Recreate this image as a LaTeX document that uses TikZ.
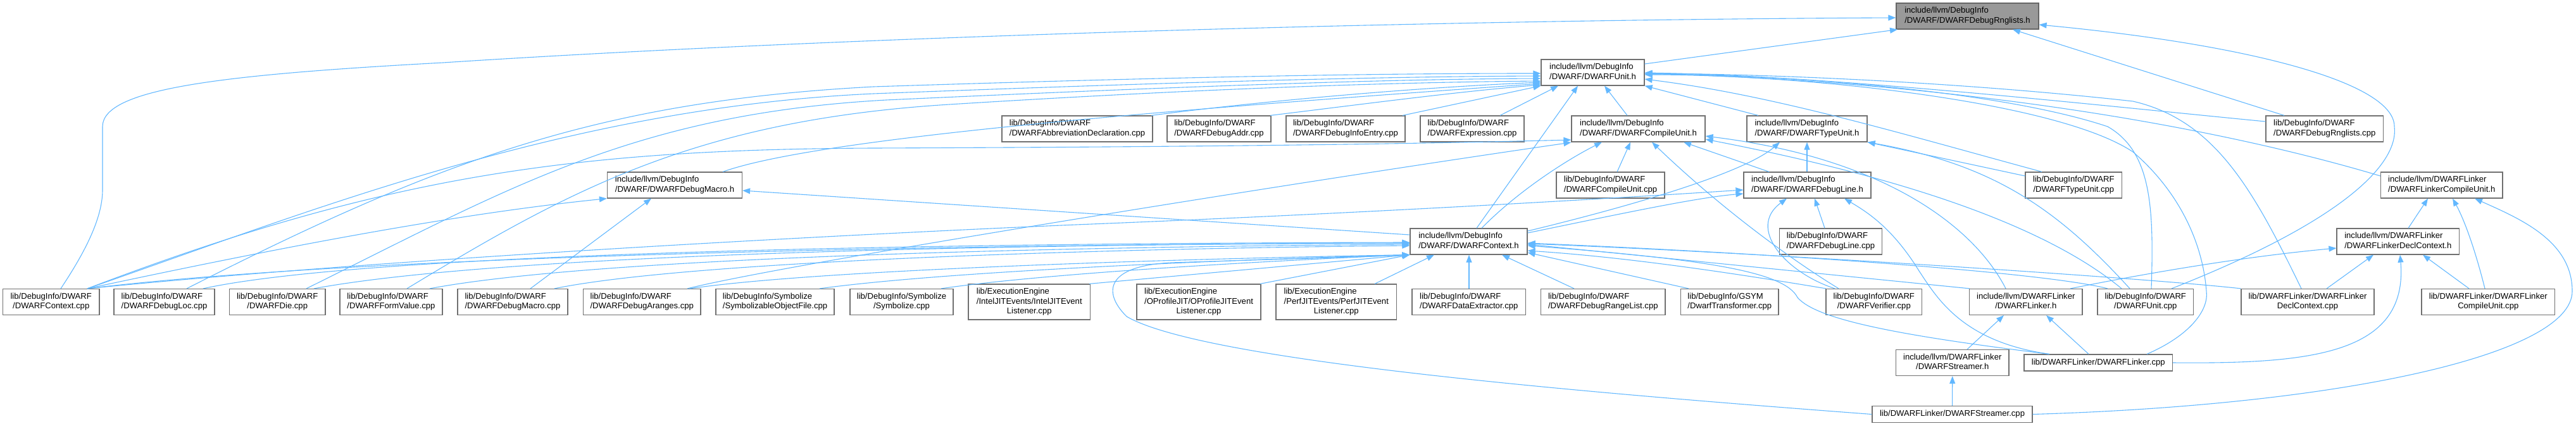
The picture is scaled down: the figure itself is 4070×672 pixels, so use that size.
\documentclass[tikz,border=0pt]{standalone}
\usepackage{fontspec}
\setmainfont{Liberation Sans}
\usetikzlibrary{arrows.meta}
\definecolor{edgec}{HTML}{63B8FF}
\definecolor{boxc}{HTML}{707070}
\definecolor{rootfill}{HTML}{999999}
\definecolor{rootline}{HTML}{666666}
\newcommand\twol[2]{\begin{tabular}{@{}l@{}}#1\\\multicolumn{1}{@{}c@{}}{#2}\end{tabular}}
\newcommand\threel[3]{\begin{tabular}{@{}l@{}}#1\\#2\\\multicolumn{1}{@{}c@{}}{#3}\end{tabular}}
\newcommand\mynode[6]{\node[box,minimum width=#4pt,minimum height=#5pt] (#1) at (#2,#3) {#6};}
\begin{document}
\begin{tikzpicture}[x=1pt,y=-1pt,
  box/.style={draw=boxc,line width=1.2pt,fill=white,inner sep=0pt,font=\fontsize{13.1}{15.3}\selectfont},
  e/.style={draw=edgec,line width=1.1pt,-{Triangle[length=12pt,width=9pt]}}]
\useasboundingbox (0,0) rectangle (4070,672);
% rank 0
\node[box,fill=rootfill,draw=rootline,minimum width=225pt,minimum height=41pt] (R) at (3108.5,25.5) {\twol{include/llvm/DebugInfo}{/DWARF/DWARFDebugRnglists.h}};
% rank 1
\mynode{U}{2516.5}{114.5}{163}{41}{\twol{include/llvm/DebugInfo}{/DWARF/DWARFUnit.h}}
% rank 2
\mynode{Abbrev}{1702}{203.5}{238}{41}{\twol{lib/DebugInfo/DWARF}{/DWARFAbbreviationDeclaration.cpp}}
\mynode{Addr}{1926}{203.5}{164}{41}{\twol{lib/DebugInfo/DWARF}{/DWARFDebugAddr.cpp}}
\mynode{InfoEntry}{2126}{203.5}{188}{41}{\twol{lib/DebugInfo/DWARF}{/DWARFDebugInfoEntry.cpp}}
\mynode{Expr}{2326}{203.5}{164}{41}{\twol{lib/DebugInfo/DWARF}{/DWARFExpression.cpp}}
\mynode{CUh}{2588.5}{203.5}{211}{41}{\twol{include/llvm/DebugInfo}{/DWARF/DWARFCompileUnit.h}}
\mynode{TUh}{2855}{203.5}{190}{41}{\twol{include/llvm/DebugInfo}{/DWARF/DWARFTypeUnit.h}}
\mynode{RngCpp}{3672.75}{203.5}{185.5}{41}{\twol{lib/DebugInfo/DWARF}{/DWARFDebugRnglists.cpp}}
% rank 3
\mynode{Macroh}{1066}{292.5}{213}{41}{\twol{include/llvm/DebugInfo}{/DWARF/DWARFDebugMacro.h}}
\mynode{CUcpp}{2544.5}{292.5}{171}{41}{\twol{lib/DebugInfo/DWARF}{/DWARFCompileUnit.cpp}}
\mynode{Lineh}{2855.5}{292.5}{201}{41}{\twol{include/llvm/DebugInfo}{/DWARF/DWARFDebugLine.h}}
\mynode{TUcpp}{3276.3}{292.5}{152.6}{41}{\twol{lib/DebugInfo/DWARF}{/DWARFTypeUnit.cpp}}
\mynode{LCUh}{3857.75}{292.5}{192.5}{41}{\twol{include/llvm/DWARFLinker}{/DWARFLinkerCompileUnit.h}}
% rank 4
\mynode{Ctxh}{2320.5}{381.5}{185}{41}{\twol{include/llvm/DebugInfo}{/DWARF/DWARFContext.h}}
\mynode{Linecpp}{2892.5}{381.5}{162}{41}{\twol{lib/DebugInfo/DWARF}{/DWARFDebugLine.cpp}}
\mynode{LDCh}{3788.8}{381.5}{193.6}{41}{\twol{include/llvm/DWARFLinker}{/DWARFLinkerDeclContext.h}}
% rank 5
\mynode{CtxCpp}{80.75}{477}{152.5}{41}{\twol{lib/DebugInfo/DWARF}{/DWARFContext.cpp}}
\mynode{Loc}{259.5}{477}{159}{41}{\twol{lib/DebugInfo/DWARF}{/DWARFDebugLoc.cpp}}
\mynode{Die}{438.25}{477}{151.5}{41}{\twol{lib/DebugInfo/DWARF}{/DWARFDie.cpp}}
\mynode{Form}{618}{477}{162}{41}{\twol{lib/DebugInfo/DWARF}{/DWARFFormValue.cpp}}
\mynode{MacroCpp}{810}{477}{174}{41}{\twol{lib/DebugInfo/DWARF}{/DWARFDebugMacro.cpp}}
\mynode{Aranges}{1014.25}{477}{185.5}{41}{\twol{lib/DebugInfo/DWARF}{/DWARFDebugAranges.cpp}}
\mynode{SymObj}{1224.5}{477}{187}{41}{\twol{lib/DebugInfo/Symbolize}{/SymbolizableObjectFile.cpp}}
\mynode{Symb}{1424.5}{477}{163}{41}{\twol{lib/DebugInfo/Symbolize}{/Symbolize.cpp}}
\mynode{Intel}{1626.25}{477}{192.5}{56}{\threel{lib/ExecutionEngine}{/IntelJITEvents/IntelJITEvent}{Listener.cpp}}
\mynode{OProf}{1894}{477}{196}{56}{\threel{lib/ExecutionEngine}{/OProfileJIT/OProfileJITEvent}{Listener.cpp}}
\mynode{Perf}{2111.25}{477}{190.5}{56}{\threel{lib/ExecutionEngine}{/PerfJITEvents/PerfJITEvent}{Listener.cpp}}
\mynode{DataEx}{2320.75}{477}{179.5}{41}{\twol{lib/DebugInfo/DWARF}{/DWARFDataExtractor.cpp}}
\mynode{RangeList}{2532.8}{477}{196.4}{41}{\twol{lib/DebugInfo/DWARF}{/DWARFDebugRangeList.cpp}}
\mynode{DwarfTr}{2732.8}{477}{154.4}{41}{\twol{lib/DebugInfo/GSYM}{/DwarfTransformer.cpp}}
\mynode{Verif}{2960.75}{477}{151.5}{41}{\twol{lib/DebugInfo/DWARF}{/DWARFVerifier.cpp}}
\mynode{Linkerh}{3200.75}{477}{178.5}{41}{\twol{include/llvm/DWARFLinker}{/DWARFLinker.h}}
\mynode{UnitCpp}{3389.75}{477}{151.5}{41}{\twol{lib/DebugInfo/DWARF}{/DWARFUnit.cpp}}
\mynode{LDCcpp}{3646}{477}{210}{41}{\twol{lib/DWARFLinker/DWARFLinker}{DeclContext.cpp}}
\mynode{LCUcpp}{3931.25}{477}{210.5}{41}{\twol{lib/DWARFLinker/DWARFLinker}{CompileUnit.cpp}}
% rank 6
\mynode{Streamh}{3084.75}{573}{178.5}{41}{\twol{include/llvm/DWARFLinker}{/DWARFStreamer.h}}
\mynode{LinkerCpp}{3315.25}{573}{234.5}{26}{lib/DWARFLinker/DWARFLinker.cpp}
% rank 7
\mynode{StreamCpp}{3084.5}{654.5}{253}{26}{lib/DWARFLinker/DWARFStreamer.cpp}

% ---- edges into DWARFDebugRnglists.h
\draw[e] (96,0 |- CtxCpp.north) .. controls (140,390) and (162,340) .. (162,300) -- (162,200) .. controls (162,140) and (350,118) .. (700,99) .. controls (1300,60) and (2200,32) .. (R.west |- 0,28);
\draw[e] (U.east |- 0,101) -- (2998,0 |- R.south);
\draw[e] (3609,0 |- RngCpp.north) -- (3180,0 |- R.south);
\draw[e] (3431,0 |- UnitCpp.north) .. controls (3700,350) and (3790,260) .. (3783,200) .. controls (3783,130) and (3550,70) .. (R.east |- 0,39);

% ---- edges into DWARFUnit.h
\draw[e] (138,0 |- CtxCpp.north) .. controls (500,330) and (900,170) .. (1380,148) .. controls (1900,128) and (2200,121) .. (U.west |- 0,120);
\draw[e] (295,0 |- Loc.north) .. controls (700,250) and (950,160) .. (1380,137) .. controls (1900,120) and (2200,116) .. (U.west |- 0,116);
\draw[e] (484,0 |- Die.north) .. controls (800,300) and (1000,180) .. (1400,158) .. controls (1900,135) and (2200,125) .. (U.west |- 0,124);
\draw[e] (643,0 |- Form.north) .. controls (900,300) and (1100,190) .. (1500,165) .. controls (1900,140) and (2200,130) .. (U.west |- 0,128);
\draw[e] (1142,0 |- Macroh.north) .. controls (1300,215) and (1900,170) .. (U.west |- 0,132);
\draw[e] (1819,0 |- Abbrev.north) .. controls (1950,165) and (2200,140) .. (U.west |- 0,130);
\draw[e] (2007,0 |- Addr.north) .. controls (2150,165) and (2300,145) .. (U.west |- 0,134);
\draw[e] (2216,0 |- InfoEntry.north) -- (U.south west);
\draw[e] (2370,0 |- Expr.north) -- (2462,0 |- U.south);
\draw[e] (2333,0 |- Ctxh.north) -- (2493,0 |- U.south);
\draw[e] (2571,0 |- CUh.north) -- (2535,0 |- U.south);
\draw[e] (2778,0 |- TUh.north) -- (U.south east);
\draw[e] (3226,0 |- TUcpp.north) .. controls (3000,210) and (2800,150) .. (U.east |- 0,125);
\draw[e] (RngCpp.west |- 0,192) .. controls (3300,165) and (2900,120) .. (U.east |- 0,115);
\draw[e] (3399,0 |- UnitCpp.north) .. controls (3403,330) and (3400,240) .. (3330,200) .. controls (3150,140) and (2800,118) .. (U.east |- 0,117);
\draw[e] (3636,0 |- LDCcpp.north) .. controls (3560,300) and (3500,190) .. (3370,160) .. controls (3100,130) and (2800,117) .. (U.east |- 0,116);
\draw[e] (3392,0 |- LinkerCpp.north) .. controls (3460,530) and (3490,490) .. (3486,460) .. controls (3480,380) and (3440,300) .. (3370,240) .. controls (3250,160) and (2850,118) .. (U.east |- 0,118);
\draw[e] (LCUh.west |- 0,278) .. controls (3500,200) and (3100,130) .. (U.east |- 0,116);

% ---- edges into DWARFDebugMacro.h
\draw[e] (138,0 |- CtxCpp.north) .. controls (400,400) and (700,340) .. (Macroh.south west);
\draw[e] (838,0 |- MacroCpp.north) -- (1029,0 |- Macroh.south);
\draw[e] (Ctxh.west |- 0,371) -- (Macroh.east |- 0,301);

% ---- edges into DWARFCompileUnit.h
\draw[e] (138,0 |- CtxCpp.north) .. controls (600,280) and (900,236) .. (1380,234) .. controls (1900,232) and (2200,228) .. (CUh.west |- 0,221);
\draw[e] (1086,0 |- Aranges.north) .. controls (1250,415) and (2100,280) .. (CUh.west |- 0,225);
\draw[e] (2341,0 |- Ctxh.north) .. controls (2400,300) and (2480,250) .. (2531,0 |- CUh.south);
\draw[e] (2555,0 |- CUcpp.north) -- (2576,0 |- CUh.south);
\draw[e] (2905,0 |- Verif.north) .. controls (2830,410) and (2720,330) .. (2610,0 |- CUh.south);
\draw[e] (2795,0 |- Lineh.north) -- (2660,0 |- CUh.south);
\draw[e] (3352,0 |- UnitCpp.north) .. controls (3200,330) and (2900,260) .. (CUh.east |- 0,220);
\draw[e] (3169,0 |- Linkerh.north) .. controls (3120,360) and (2980,250) .. (CUh.east |- 0,215);

% ---- edges into DWARFTypeUnit.h
\draw[e] (Ctxh.east |- 0,365) .. controls (2600,320) and (2760,270) .. (2812,0 |- TUh.south);
\draw[e] (2855,0 |- Lineh.north) -- (2855,0 |- TUh.south);
\draw[e] (TUcpp.west |- 0,278) -- (TUh.south east);
\draw[e] (3365,0 |- UnitCpp.north) .. controls (3250,330) and (3150,260) .. (TUh.south east);

% ---- edges into DWARFDebugLine.h
\draw[e] (138,0 |- CtxCpp.north) .. controls (600,410) and (1300,372) .. (1700,355) .. controls (2200,335) and (2600,310) .. (Lineh.west |- 0,300);
\draw[e] (Ctxh.east |- 0,368) .. controls (2550,340) and (2680,312) .. (Lineh.west |- 0,306);
\draw[e] (2899,0 |- Verif.north) .. controls (2820,430) and (2760,360) .. (2823,0 |- Lineh.south);
\draw[e] (2883,0 |- Linecpp.north) -- (2867,0 |- Lineh.south);
\draw[e] (3238,0 |- LinkerCpp.north) .. controls (3100,540) and (3060,470) .. (3032,428) .. controls (2990,360) and (2950,335) .. (2914,0 |- Lineh.south);

% ---- edges into DWARFContext.h
\draw[e] (138,0 |- CtxCpp.north) .. controls (600,400) and (1600,386) .. (Ctxh.west |- 0,384);
\draw[e] (321,0 |- Loc.north) .. controls (600,395) and (1600,384) .. (Ctxh.west |- 0,383);
\draw[e] (496,0 |- Die.north) .. controls (800,400) and (1600,386) .. (Ctxh.west |- 0,384);
\draw[e] (679,0 |- Form.north) .. controls (950,405) and (1700,390) .. (Ctxh.west |- 0,386);
\draw[e] (876,0 |- MacroCpp.north) .. controls (1100,410) and (1800,392) .. (Ctxh.west |- 0,388);
\draw[e] (1090,0 |- Aranges.north) .. controls (1300,425) and (1900,408) .. (Ctxh.south west);
\draw[e] (1295,0 |- SymObj.north) .. controls (1500,428) and (1950,410) .. (Ctxh.south west);
\draw[e] (1487,0 |- Symb.north) .. controls (1650,432) and (2000,412) .. (Ctxh.south west);
\draw[e] (1721,0 |- Intel.north) -- (Ctxh.south west);
\draw[e] (1991,0 |- OProf.north) -- (Ctxh.south west);
\draw[e] (2172,0 |- Perf.north) -- (2266,0 |- Ctxh.south);
\draw[e] (2321,0 |- DataEx.north) -- (2321,0 |- Ctxh.south);
\draw[e] (2487,0 |- RangeList.north) -- (2373,0 |- Ctxh.south);
\draw[e] (2668,0 |- DwarfTr.north) -- (Ctxh.east |- 0,399);
\draw[e] (2885,0 |- Verif.north) .. controls (2700,425) and (2550,405) .. (Ctxh.east |- 0,396);
\draw[e] (3112,0 |- Linkerh.north) -- (Ctxh.east |- 0,386);
\draw[e] (3330,0 |- UnitCpp.north) .. controls (3230,430) and (2800,400) .. (Ctxh.east |- 0,384);
\draw[e] (LDCcpp.north west) .. controls (3400,440) and (2800,400) .. (Ctxh.east |- 0,385);
\draw[e] (3238,0 |- LinkerCpp.north) .. controls (3000,530) and (2870,505) .. (2840,470) .. controls (2820,430) and (2700,410) .. (Ctxh.east |- 0,388);
\draw[e] (StreamCpp.west) .. controls (2500,620) and (1900,570) .. (1780,500) .. controls (1740,460) and (1750,420) .. (1850,415) .. controls (2000,410) and (2150,406) .. (Ctxh.south west);

% ---- edges into DWARFLinker.h
\draw[e] (3108,0 |- Streamh.north) -- (3166,0 |- Linkerh.south);
\draw[e] (3300,0 |- LinkerCpp.north) -- (3233,0 |- Linkerh.south);

% ---- edges into DWARFLinkerDeclContext.h
\draw[e] (3271,0 |- Linkerh.north) .. controls (3400,430) and (3550,405) .. (LDCh.west |- 0,392);
\draw[e] (3676,0 |- LDCcpp.north) -- (3750,0 |- LDCh.south);
\draw[e] (LinkerCpp.east) .. controls (3650,575) and (3805,560) .. (3792,0 |- LDCh.south);
\draw[e] (3901,0 |- LCUcpp.north) -- (3828,0 |- LDCh.south);

% ---- edges into DWARFLinkerCompileUnit.h
\draw[e] (3805,0 |- LDCh.north) -- (3836,0 |- LCUh.south);
\draw[e] (3926,0 |- LCUcpp.north) .. controls (3912,400) and (3895,350) .. (3875,0 |- LCUh.south);
\draw[e] (StreamCpp.east) .. controls (3700,640) and (4064,560) .. (4064,460) .. controls (4064,380) and (3980,345) .. (3910,0 |- LCUh.south);

% ---- edge into DWARFStreamer.h
\draw[e] (StreamCpp.north) -- (Streamh.south);
\end{tikzpicture}
\end{document}
